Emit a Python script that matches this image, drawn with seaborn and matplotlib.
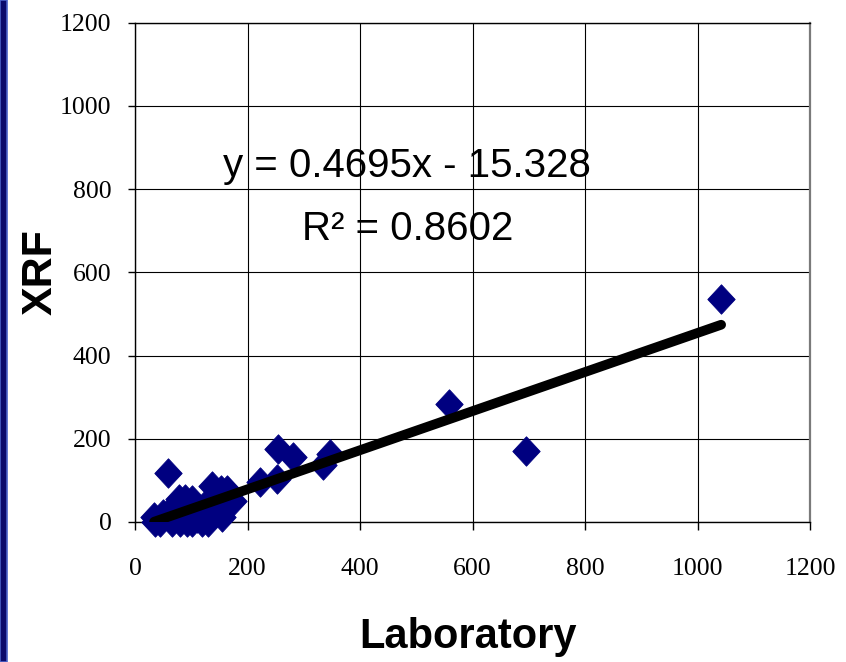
import matplotlib
matplotlib.use("Agg")
import matplotlib.pyplot as plt
from matplotlib.path import Path
from matplotlib.patches import Rectangle
import numpy as np
import pandas as pd
import seaborn as sns

# Paired measurements: laboratory assay vs. field XRF reading
laboratory = [34, 36, 44, 50, 58, 60, 66, 72, 75, 78, 80, 85, 89, 92, 95,
              101, 101, 106, 110, 110, 119, 122, 125, 130, 136, 140, 145,
              152, 155, 160, 163, 166, 174,
              222, 252, 255, 281, 334, 347, 558, 695, 1042]
xrf = [12, 0, 0, 20, 117, 25, 0, 15, 35, 55, 0, 40, 55, 0, 20,
       53, 0, 35, 30, 10, 0, 25, 40, 0, 86, 20, 45,
       76, 12, 35, 76, 72, 50,
       96, 104, 175, 156, 138, 163, 283, 171, 535]

# Least-squares trend line reported on the chart
slope = 0.4695
intercept = -15.328
r_squared = 0.8602

ticks = [0, 200, 400, 600, 800, 1000, 1200]
tick_labels = ["0", "200", "400", "600", "800", "1000", "1200"]

sns.set_style("white")
plt.rcParams["font.family"] = ["Liberation Sans", "DejaVu Sans"]
plt.rcParams["text.color"] = "black"
plt.rcParams["axes.labelcolor"] = "black"
plt.rcParams["xtick.color"] = "black"
plt.rcParams["ytick.color"] = "black"

fig = plt.figure(figsize=(8.46, 6.62), dpi=100)
W, H = 846, 662
ax = fig.add_axes([135 / W, 1 - 522 / H, 675 / W, 499.5 / H])

# Dark strip along the left edge of the slide
fig.patches.append(Rectangle((0, 0), 7 / W, 1, transform=fig.transFigure,
                             facecolor="#0b0b6c", edgecolor="#4a62c8",
                             linewidth=1.2, zorder=0))

df = pd.DataFrame({"Laboratory": laboratory, "XRF": xrf})

diamond = Path([(0, 1), (0.93, 0), (0, -1), (-0.93, 0), (0, 1)],
               [Path.MOVETO, Path.LINETO, Path.LINETO, Path.LINETO, Path.CLOSEPOLY])
sns.scatterplot(data=df, x="Laboratory", y="XRF", marker=diamond, s=450,
                color="#000080", edgecolor="#000080", linewidth=0.6,
                ax=ax, zorder=3, clip_on=False, legend=False)

fit_x = np.array(sorted(set(laboratory)), dtype=float)
fit = pd.DataFrame({"Laboratory": fit_x, "XRF": slope * fit_x + intercept})
sns.lineplot(data=fit, x="Laboratory", y="XRF", color="black", linewidth=7,
             solid_capstyle="round", ax=ax, zorder=4)

sign = "-" if intercept < 0 else "+"
ax.text(484, 829, f"y = {slope:.4f}x {sign} {abs(intercept):.3f}",
        ha="center", va="baseline", fontsize=29, color="black", zorder=5)
ax.text(484, 677.5, f"R\u00b2 = {r_squared:.4f}",
        ha="center", va="baseline", fontsize=29, color="black", zorder=5)

ax.set_xlim(0, 1200)
ax.set_ylim(0, 1200)
ax.set_xticks(ticks)
ax.set_xticklabels(tick_labels)
ax.set_yticks(ticks)
ax.set_yticklabels(tick_labels)

ax.grid(True, color="black", linewidth=0.8)
ax.set_axisbelow(True)
for side in ["left", "bottom", "top"]:
    ax.spines[side].set_color("black")
    ax.spines[side].set_linewidth(1.0)
ax.spines["right"].set_color("#7a7a7a")
ax.spines["right"].set_linewidth(1.6)

ax.tick_params(axis="x", direction="out", length=6, width=1, color="black",
               labelcolor="black", pad=20, bottom=True)
ax.tick_params(axis="y", direction="out", length=5, width=1, color="black",
               labelcolor="black", pad=12, left=True)
for lab in ax.get_xticklabels() + ax.get_yticklabels():
    lab.set_fontfamily(["Liberation Serif", "DejaVu Serif"])
    lab.set_fontsize(18.5)

ax.set_xlabel("Laboratory", fontsize=30, fontweight="bold", color="black")
ax.set_ylabel("XRF", fontsize=31, fontweight="bold", color="black")
ax.xaxis.set_label_coords(0.4933, -0.19)
ax.yaxis.set_label_coords(-0.1096, 0.5005)

fig.savefig("out.png", dpi=100, facecolor="white")
